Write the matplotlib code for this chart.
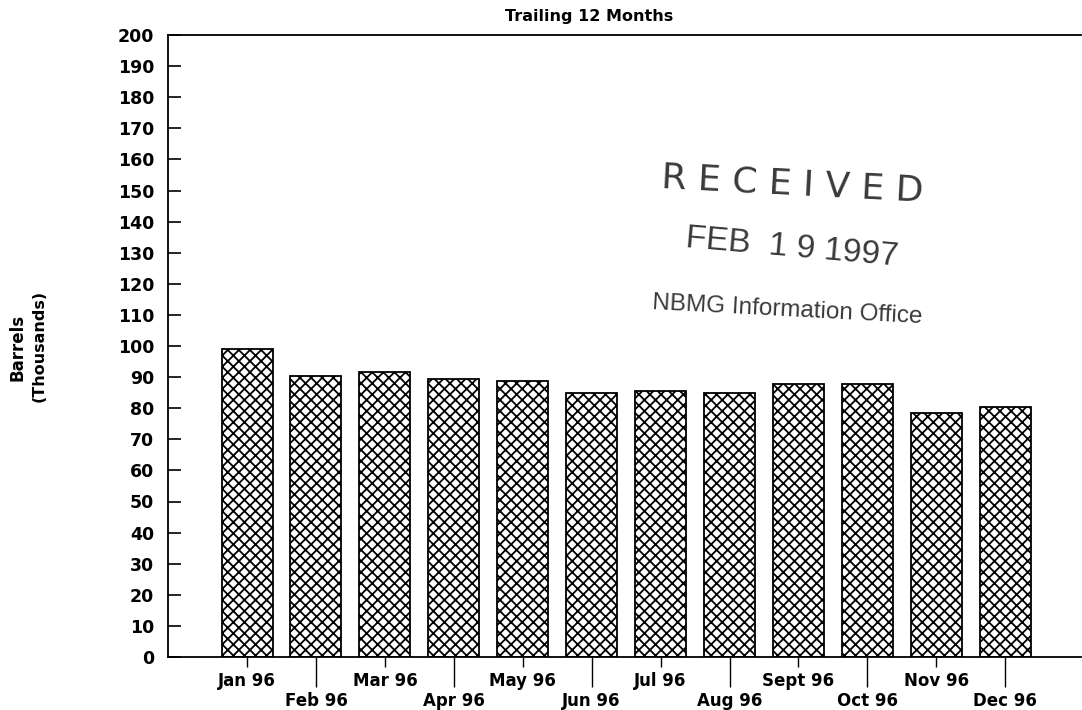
#!/usr/bin/env python3
import matplotlib as mpl
mpl.use('Agg')
import matplotlib.pyplot as plt
import numpy

# monthly values, thousands of barrels
Months = ["Jan 96", "Feb 96", "Mar 96", "Apr 96", "May 96", "Jun 96",
          "Jul 96", "Aug 96", "Sept 96", "Oct 96", "Nov 96", "Dec 96"]
Barrels = [99.0, 90.5, 91.8, 89.5, 88.7, 85.0, 85.5, 84.8, 87.8, 87.9, 78.5, 80.3]
YTicks = list(range(0, 201, 10))

plt.rcParams['font.family'] = 'DejaVu Sans'
plt.rcParams['hatch.linewidth'] = 1.3
plt.rcParams['hatch.color'] = 'black'

W, H = 1082, 710
Fig = plt.figure(figsize=(W / 100, H / 100), dpi=100)
Axe = Fig.add_axes([168 / W, 1 - 657 / H, (1081 - 168) / W, (657 - 35) / H])

Index = numpy.arange(len(Months))
Axe.bar(Index, Barrels, 0.74, color='white', edgecolor='black',
        linewidth=1.3, hatch='xxx')

Axe.set_xlim(-1.147, 12.1)
Axe.set_ylim(0, 200)

Axe.set_yticks(YTicks)
Axe.set_yticklabels([str(v) for v in YTicks], fontsize=12.5, fontweight='bold')
Axe.tick_params(axis='y', direction='in', length=9, width=1.2, pad=10)

# alternate labels: even months high with short ticks, odd months low with long ticks
Axe.set_xticks(Index[::2])
Axe.set_xticklabels(Months[::2], fontsize=12, fontweight='bold')
Axe.set_xticks(Index[1::2], minor=True)
Axe.set_xticklabels(Months[1::2], minor=True, fontsize=12, fontweight='bold')
Axe.tick_params(axis='x', which='major', direction='out', length=7.5, width=1.0, pad=3.5)
Axe.tick_params(axis='x', which='minor', direction='out', length=21.5, width=1.0, pad=3.5)

Axe.spines['right'].set_visible(False)
for Side in ('left', 'bottom', 'top'):
	Axe.spines[Side].set_linewidth(1.3)

def px(x, y):
	return (x / W, 1 - y / H)

Fig.text(*px(589, 16), "Trailing 12 Months", ha='center', va='center',
         fontsize=11.5, fontweight='bold')
Fig.text(*px(17.5, 347), "Barrels", ha='center', va='center', rotation=90,
         fontsize=12, fontweight='bold')
Fig.text(*px(39.5, 346), "(Thousands)", ha='center', va='center', rotation=90,
         fontsize=11.5, fontweight='bold')

# received stamp
Ink = '#3a3a3a'
Stamp = ['Liberation Sans', 'DejaVu Sans']
Fig.text(*px(792, 184), "R E C E I V E D", ha='center', va='center',
         rotation=-3, fontsize=26, color=Ink)
Fig.text(*px(792, 248), "FEB  1 9 1997", ha='center', va='center',
         rotation=-5, fontsize=24, color=Ink, family=Stamp)
Fig.text(*px(787, 310), "NBMG Information Office", ha='center', va='center',
         rotation=-3, fontsize=17.5, color=Ink, family=Stamp)

plt.savefig("out.png", dpi=100)
